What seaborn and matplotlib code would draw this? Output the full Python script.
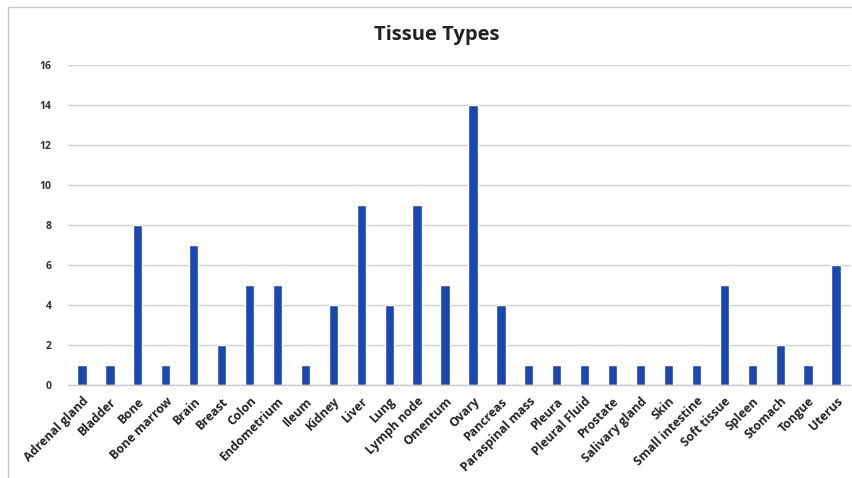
import matplotlib
matplotlib.use("Agg")
import matplotlib.pyplot as plt
import seaborn as sns
import pandas as pd
from matplotlib.lines import Line2D

categories = ["Adrenal gland", "Bladder", "Bone", "Bone marrow", "Brain", "Breast", "Colon",
              "Endometrium", "Ileum", "Kidney", "Liver", "Lung", "Lymph node", "Omentum",
              "Ovary", "Pancreas", "Paraspinal mass", "Pleura", "Pleural Fluid", "Prostate",
              "Salivary gland", "Skin", "Small intestine", "Soft tissue", "Spleen", "Stomach",
              "Tongue", "Uterus"]
counts = [1, 1, 8, 1, 7, 2, 5, 5, 1, 4, 9, 4, 9, 5, 14, 4, 1, 1, 1, 1, 1, 1, 1, 5, 1, 2, 1, 6]
yticks = [0, 2, 4, 6, 8, 10, 12, 14, 16]

df = pd.DataFrame({"Tissue": categories, "Count": counts})

sns.set_theme(style="white")
plt.rcParams['font.family'] = ['Open Sans', 'DejaVu Sans']

fig = plt.figure(figsize=(8.52, 4.78), dpi=100)
ax = fig.add_axes([68/852, 1-385/478, (850-68)/852, (385-65)/478])

sns.barplot(data=df, x="Tissue", y="Count", color="#1a48b0", width=0.33,
            saturation=1, ax=ax)

ax.set_ylim(0, 16)
ax.set_xlim(-0.5, len(categories) - 0.5)
ax.set_yticks(yticks)
ax.set_yticklabels([str(t) for t in yticks], fontsize=7.5, fontweight="bold", color="#333333")
ax.set_xticks(range(len(categories)))
ax.set_xticklabels(categories, rotation=45, ha="right", rotation_mode="anchor",
                   fontsize=8.8, fontweight="bold", color="#222222")
ax.tick_params(axis="x", length=0, pad=7)
ax.tick_params(axis="y", length=0, pad=12)
ax.set_xlabel("")
ax.set_ylabel("")
ax.yaxis.grid(True, color="#d0d0d0", linewidth=1)
ax.set_axisbelow(True)
for s in ["top", "right", "left"]:
    ax.spines[s].set_visible(False)
ax.spines["bottom"].set_color("#c8c8c8")
ax.spines["bottom"].set_linewidth(1)

fig.text(437/852, 1-35/478, "Tissue Types", ha="center", va="center",
         fontsize=14.5, fontweight="bold", color="#222222")

# outer chart border (top and left visible)
fig.add_artist(Line2D([8/852, 1.0], [1-7/478, 1-7/478], transform=fig.transFigure,
                      color="#c8c8c8", linewidth=1))
fig.add_artist(Line2D([8/852, 8/852], [0.0, 1-7/478], transform=fig.transFigure,
                      color="#c8c8c8", linewidth=1))

fig.savefig("out.png", dpi=100)
